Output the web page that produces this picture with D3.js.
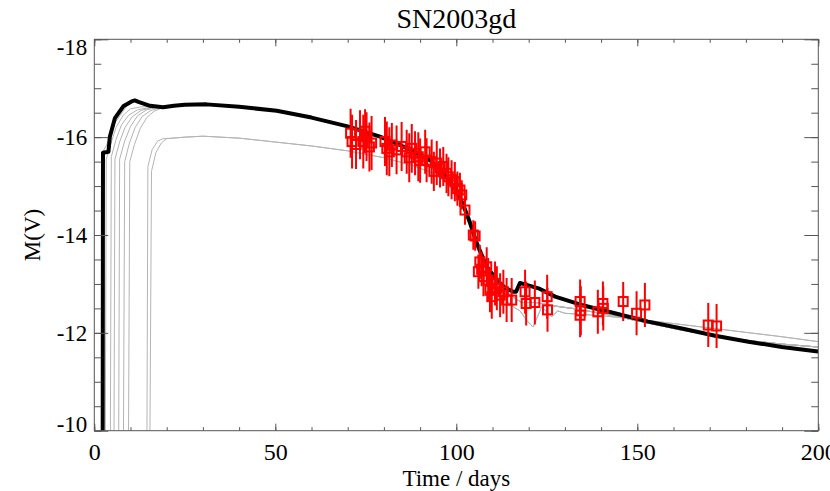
<!DOCTYPE html>
<html>
<head>
<meta charset="utf-8">
<script src="https://cdn.jsdelivr.net/npm/d3@7"></script>
<style>
  html, body { margin: 0; padding: 0; background: #fff; }
  svg text { font-family: "Liberation Serif", "Tinos", "Times New Roman", "Nimbus Roman", "DejaVu Serif", "Noto Serif", serif !important; fill: #000; }
</style>
</head>
<body>
<svg id="chart" width="830" height="491"></svg>
<script>
// ---------------- DATA ----------------
const title = "SN2003gd";
const xLabel = "Time / days";
const yLabel = "M(V)";
const xTicks = [0, 50, 100, 150, 200];
const yTicks = [-10, -12, -14, -16, -18];

// Observed photometry: time (days), M(V), error
const obsT = [70.8, 71.2, 72.3, 73.4, 74.3, 74.8, 75.2, 76.0, 76.6,
  80.3, 80.8, 81.5, 82.2, 83.5, 84.9, 86.3, 87.0, 87.7, 88.6, 89.5, 90.0, 91.4, 91.8,
  93.2, 93.8, 94.6, 95.5, 96.4, 97.3, 97.8, 98.7, 99.6, 100.3, 101.0, 101.5, 102.4,
  104.7, 105.2, 106.1, 106.5, 107.0, 107.5, 108.4, 108.8, 109.3, 109.8, 110.7, 111.2,
  112.1, 113.0, 113.9, 115.3, 119.0, 119.3, 121.7, 125.1, 125.2,
  134.2, 134.4, 134.2, 139.1, 140.5, 140.6, 146.1, 149.8, 152.1, 169.6, 171.9];
const obsM = [-16.08, -15.91, -15.85, -16.05, -15.91, -16.12, -16.01, -15.80, -15.88,
  -15.91, -15.77, -15.70, -15.84, -15.74, -15.81, -15.70, -15.58, -15.77, -15.67, -15.60, -15.52, -15.70, -15.53,
  -15.50, -15.30, -15.47, -15.37, -15.40, -15.26, -15.19, -15.13, -15.09, -14.95, -14.92, -14.82, -14.51,
  -14.00, -13.98, -13.25, -13.45, -13.30, -13.15, -13.35, -13.08, -12.87, -12.74, -13.01, -12.91,
  -12.77, -12.84, -12.67, -12.67, -12.84, -12.60, -12.62, -12.74, -12.47,
  -12.64, -12.45, -12.36, -12.43, -12.60, -12.50, -12.64, -12.40, -12.57, -12.16, -12.14];
const obsErr = [0.50, 0.55, 0.50, 0.50, 0.55, 0.45, 0.50, 0.50, 0.55,
  0.50, 0.55, 0.50, 0.45, 0.50, 0.50, 0.45, 0.50, 0.50, 0.45, 0.50, 0.45, 0.45, 0.45,
  0.45, 0.40, 0.45, 0.40, 0.40, 0.40, 0.40, 0.40, 0.40, 0.35, 0.35, 0.30, 0.30,
  0.30, 0.30, 0.35, 0.35, 0.35, 0.40, 0.40, 0.45, 0.45, 0.45, 0.45, 0.45,
  0.45, 0.45, 0.45, 0.45, 0.45, 0.45, 0.45, 0.45, 0.45,
  0.45, 0.50, 0.45, 0.45, 0.45, 0.45, 0.40, 0.45, 0.45, 0.45, 0.45];

// Best-fit model light curve (thick black) [t, M]
const bestModel = [[2.3, -9.0], [2.4, -15.68], [3.9, -15.70], [4.3, -16.01], [5.7, -16.39],
  [8.0, -16.63], [10.3, -16.73], [11.2, -16.75], [12.2, -16.72], [15.4, -16.64], [19.0, -16.61],
  [22.0, -16.64], [25.0, -16.66], [31.0, -16.67], [40.0, -16.62], [50.4, -16.54], [60.0, -16.40],
  [70.0, -16.22], [78.9, -16.01], [84.4, -15.84], [88.0, -15.72], [92.7, -15.53], [96.0, -15.30],
  [100.0, -14.92], [102.0, -14.60], [103.8, -14.25], [105.6, -13.84], [108.4, -13.35],
  [111.2, -13.08], [113.5, -12.92], [115.7, -12.84], [116.5, -12.84], [117.6, -13.02],
  [118.5, -13.00], [122.7, -12.91], [127.3, -12.74], [134.6, -12.57], [143.8, -12.40],
  [153.0, -12.23], [162.3, -12.09], [171.5, -11.94], [180.7, -11.82], [189.9, -11.71],
  [198.8, -11.63], [200.0, -11.62]];

// Other models (thin grey): early rise segments
const greyRiseL = [[2.0, -9.0], [2.0, -15.65], [3.4, -15.84], [5.7, -16.29], [8.9, -16.63], [10.8, -16.74], [13.0, -16.71], [16.0, -16.64]];
const greyRise1 = [[3.0, -9.0], [3.3, -15.55], [4.5, -15.85], [6.0, -16.20], [8.0, -16.45], [10.0, -16.58], [13.0, -16.62], [17.0, -16.62]];
const greyRise2 = [[4.4, -9.0], [4.7, -15.60], [6.0, -15.95], [7.5, -16.25], [9.5, -16.45], [12.0, -16.56], [15.0, -16.60]];
const greyRise3 = [[5.4, -9.0], [5.7, -15.55], [7.0, -15.90], [8.5, -16.20], [10.5, -16.42], [13.0, -16.55], [16.0, -16.60]];
const greyRise4 = [[6.7, -9.0], [7.0, -15.55], [8.3, -15.90], [10.0, -16.22], [12.0, -16.44], [14.5, -16.56], [17.0, -16.60]];
const greyRise5 = [[8.0, -9.0], [8.4, -15.50], [9.7, -15.88], [11.3, -16.20], [13.2, -16.42], [15.5, -16.54], [18.0, -16.60]];
const greyRise6 = [[9.4, -9.0], [9.8, -15.50], [11.1, -15.85], [12.7, -16.18], [14.5, -16.40], [16.5, -16.53], [18.5, -16.59]];
const greyRiseLow1 = [[14.5, -9.0], [14.8, -15.40], [16.0, -15.75], [17.5, -15.92], [19.0, -15.97]];
const greyRiseLow2 = [[15.3, -9.0], [15.8, -15.30], [17.0, -15.68], [18.5, -15.88], [19.5, -15.94]];

// Grey model tails (after ~20 days)
const greyTailUpper = [[20, -16.62], [25, -16.65], [31, -16.66], [40, -16.61], [50, -16.53], [60, -16.39],
  [70, -16.21], [79, -16.00], [84, -15.83], [88, -15.70], [93, -15.50], [96, -15.28], [100, -14.88],
  [102, -14.55], [104, -14.15], [106, -13.72], [108, -13.38], [110, -13.12], [112, -12.95], [114, -12.82],
  [116, -12.72], [118, -12.62], [122, -12.62], [127, -12.55], [134, -12.48], [144, -12.34], [153, -12.20],
  [162, -12.06], [171, -11.94], [181, -11.84], [190, -11.77], [200, -11.71]];
const greyTailLower = [[20, -15.97], [25, -16.00], [30, -16.02], [40, -15.98], [50, -15.90], [60, -15.82],
  [70, -15.72], [80, -15.58], [88, -15.42], [93, -15.28], [97, -15.10], [100, -14.85], [102, -14.52],
  [104, -14.12], [106, -13.68], [108, -13.30], [110, -13.00], [112, -12.80], [114, -12.65], [116, -12.52],
  [117.6, -12.45], [119.5, -12.25], [121.2, -12.12], [123.6, -12.53], [126.4, -12.33], [128, -12.45],
  [130, -12.40], [140, -12.35], [150, -12.28], [160, -12.19], [170, -12.10], [180, -12.01], [190, -11.92],
  [200, -11.82]];

const greyModels = [
  greyRiseL.concat(greyTailUpper),
  greyRise1.concat(greyTailUpper),
  greyRise2.concat(greyTailUpper),
  greyRise3.concat(greyTailUpper),
  greyRise4.concat(greyTailUpper),
  greyRise5.concat(greyTailUpper),
  greyRise6.concat(greyTailUpper),
  greyRiseLow1.concat(greyTailLower),
  greyRiseLow2.concat(greyTailLower)
];

// ---------------- LAYOUT ----------------
const svg = d3.select("#chart");
const L = 94.3, R = 818.3, T = 39.3, B = 430.7;
const serif = '"Liberation Serif", "Tinos", "Times New Roman", "Nimbus Roman", "DejaVu Serif", serif';

const x = d3.scaleLinear().domain([0, 200]).range([L, R]);
const y = d3.scaleLinear().domain([-10, -18]).range([B, T]);

svg.append("defs").append("clipPath").attr("id", "clip")
  .append("rect").attr("x", L).attr("y", T).attr("width", R - L).attr("height", B - T);

const plot = svg.append("g").attr("clip-path", "url(#clip)");
const line = d3.line().x(d => x(d[0])).y(d => y(d[1]));

plot.selectAll("path.grey").data(greyModels).join("path")
  .attr("class", "grey")
  .attr("d", line)
  .attr("fill", "none")
  .attr("stroke", "#b4b4b4")
  .attr("stroke-width", 1);

plot.append("path")
  .attr("d", line(bestModel))
  .attr("fill", "none")
  .attr("stroke", "#000")
  .attr("stroke-width", 4)
  .attr("stroke-linejoin", "round");

const obs = obsT.map((t, i) => ({ t, m: obsM[i], e: obsErr[i] }));
const pts = plot.append("g");
pts.selectAll("line").data(obs).join("line")
  .attr("x1", d => x(d.t)).attr("x2", d => x(d.t))
  .attr("y1", d => y(d.m - d.e)).attr("y2", d => y(d.m + d.e))
  .attr("stroke", "#ff0000").attr("stroke-width", 2);
const S = 9;
pts.selectAll("rect").data(obs).join("rect")
  .attr("x", d => x(d.t) - S / 2).attr("y", d => y(d.m) - S / 2)
  .attr("width", S).attr("height", S)
  .attr("fill", "none").attr("stroke", "#ff0000").attr("stroke-width", 2);

// ---------------- AXES ----------------
const axisColor = "#555";
const xMinor = d3.range(0, 201, 10);
const yMinor = d3.range(-18, -9.99, 0.5);

function styleAxis(g) {
  g.select(".domain").remove();
  g.attr("font-family", serif);
  g.selectAll(".tick line").attr("stroke", axisColor);
}

// bottom
svg.append("g").attr("transform", `translate(0,${B})`)
  .call(d3.axisBottom(x).tickValues(xMinor).tickSize(-3.5).tickFormat(""))
  .call(styleAxis);
const xb = svg.append("g").attr("transform", `translate(0,${B})`)
  .call(d3.axisBottom(x).tickValues(xTicks).tickSize(-7).tickPadding(12).tickFormat(d => String(d)))
  .call(styleAxis);
xb.selectAll("text").attr("font-size", 24).attr("fill", "#000");
// top
svg.append("g").attr("transform", `translate(0,${T})`)
  .call(d3.axisTop(x).tickValues(xMinor).tickSize(-3.5).tickFormat(""))
  .call(styleAxis);
svg.append("g").attr("transform", `translate(0,${T})`)
  .call(d3.axisTop(x).tickValues(xTicks).tickSize(-7).tickFormat(""))
  .call(styleAxis);
// left
svg.append("g").attr("transform", `translate(${L},0)`)
  .call(d3.axisLeft(y).tickValues(yMinor).tickSize(-7).tickFormat(""))
  .call(styleAxis);
const yl = svg.append("g").attr("transform", `translate(${L},0)`)
  .call(d3.axisLeft(y).tickValues(yTicks).tickSize(-14).tickPadding(7).tickFormat(d => String(d)))
  .call(styleAxis);
yl.selectAll("text").attr("font-size", 23).attr("fill", "#000")
  .attr("dy", d => d === -18 ? "0.65em" : (d === -10 ? "0.03em" : "0.33em"));
// right
svg.append("g").attr("transform", `translate(${R},0)`)
  .call(d3.axisRight(y).tickValues(yMinor).tickSize(-7).tickFormat(""))
  .call(styleAxis);
svg.append("g").attr("transform", `translate(${R},0)`)
  .call(d3.axisRight(y).tickValues(yTicks).tickSize(-14).tickFormat(""))
  .call(styleAxis);

// frame
svg.append("rect").attr("x", L).attr("y", T).attr("width", R - L).attr("height", B - T)
  .attr("fill", "none").attr("stroke", axisColor).attr("stroke-width", 1);

// ---------------- TEXT ----------------
svg.append("text").attr("x", (L + R) / 2).attr("y", 28)
  .attr("text-anchor", "middle").attr("font-size", 28).attr("font-family", serif).text(title);
svg.append("text").attr("x", (L + R) / 2).attr("y", 486)
  .attr("text-anchor", "middle").attr("font-size", 23).attr("font-family", serif).text(xLabel);
svg.append("text").attr("transform", `translate(40,235) rotate(-90)`)
  .attr("text-anchor", "middle").attr("font-size", 23).attr("font-family", serif).text(yLabel);
</script>
</body>
</html>
